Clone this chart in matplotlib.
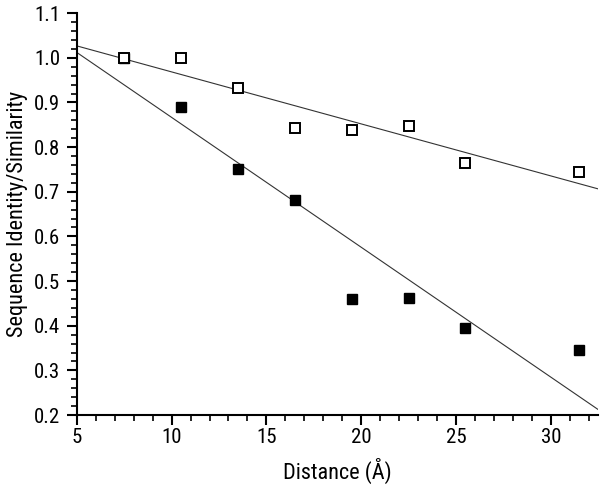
import numpy as np
import matplotlib
matplotlib.use("Agg")
import matplotlib.pyplot as plt
from matplotlib import font_manager
from matplotlib.ticker import MultipleLocator, FormatStrFormatter

# pick a narrow Arial-like face if the machine has one
have = set(f.name for f in font_manager.fontManager.ttflist)
narrow = [n for n in ['Liberation Sans Narrow', 'Arial Narrow', 'Roboto Condensed',
                      'Archivo Narrow', 'Liberation Sans'] if n in have]
plt.rcParams['font.family'] = narrow[:1] + ['DejaVu Sans']

# data
distance = [7.5, 10.5, 13.5, 16.5, 19.5, 22.5, 25.5, 31.5]
similarity = [1.0, 1.0, 0.932, 0.842, 0.838, 0.847, 0.764, 0.744]
identity = [1.0, 0.89, 0.75, 0.682, 0.46, 0.462, 0.395, 0.345]

fig = plt.figure(figsize=(6.0, 4.86), dpi=100)
ax = fig.add_axes([0.128, 0.146, 0.869, 0.827])

xl = np.array([5, 32.5])
for ys in (similarity, identity):
  p = np.polyfit(distance, ys, 1)
  ax.plot(xl, np.polyval(p, xl), color='#333333', lw=0.8, zorder=2)

ax.plot(distance, identity, ls='none', marker='s', ms=7, mfc='black', mec='black', zorder=3)
ax.plot(distance, similarity, ls='none', marker='s', ms=7, mfc='white', mec='black', mew=1.4, zorder=4)

ax.set_xlim(5, 32.5)
ax.set_ylim(0.2, 1.1)
ax.xaxis.set_major_locator(MultipleLocator(5))
ax.xaxis.set_minor_locator(MultipleLocator(1))
ax.yaxis.set_major_locator(MultipleLocator(0.1))
ax.yaxis.set_minor_locator(MultipleLocator(0.02))
ax.yaxis.set_major_formatter(FormatStrFormatter('%.1f'))

for s in ('top', 'right'):
  ax.spines[s].set_visible(False)
for s in ('left', 'bottom'):
  ax.spines[s].set_linewidth(1.5)
ax.tick_params(which='major', direction='out', length=7, width=1.5, labelsize=15)
ax.tick_params(which='minor', direction='out', length=4, width=1.2)
ax.tick_params(axis='x', which='major', pad=2)
ax.tick_params(axis='y', which='major', pad=5)

ax.set_xlabel('Distance (Å)', fontsize=16, labelpad=8)
ax.set_ylabel('Sequence Identity/Similarity', fontsize=16, labelpad=4)

fig.savefig('out.png', dpi=100)
